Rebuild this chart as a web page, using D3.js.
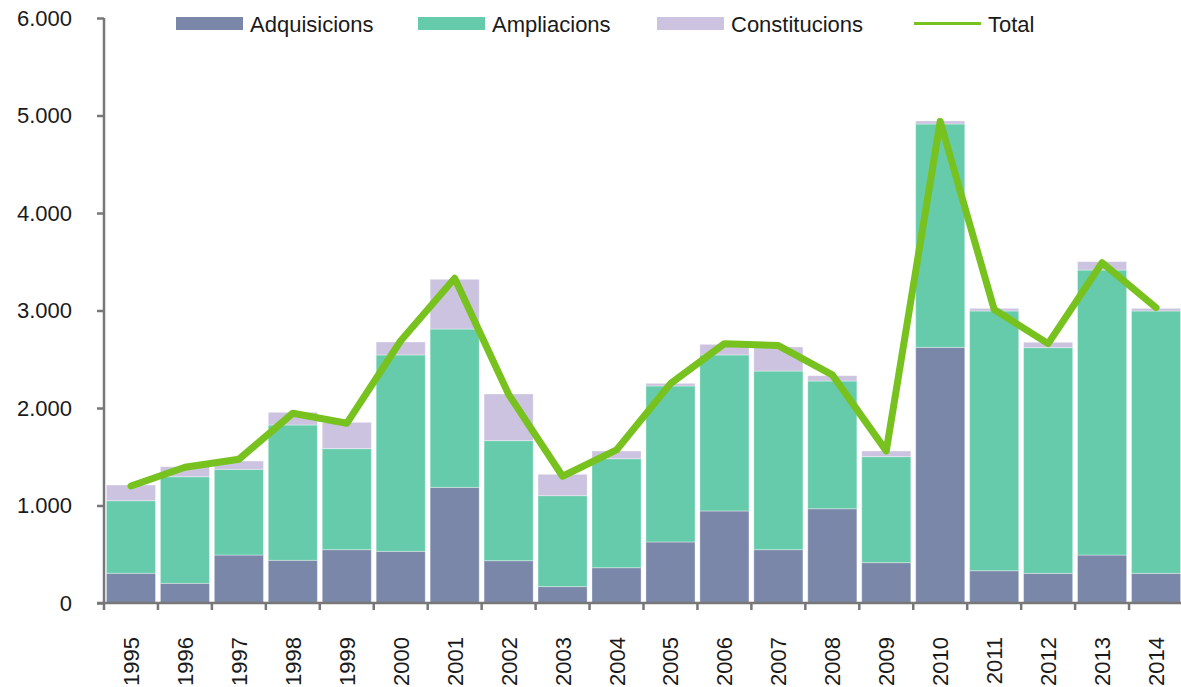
<!DOCTYPE html>
<html>
<head>
<meta charset="utf-8">
<script src="https://cdn.jsdelivr.net/npm/d3@7"></script>
<style>
  body { margin: 0; background: #fff; }
  text { font-family: "Liberation Sans", Arial, sans-serif; fill: #1a1a1a; }
</style>
</head>
<body>
<svg id="chart" width="1181" height="687"></svg>
<script>
// data
const years = ['1995','1996','1997','1998','1999','2000','2001','2002','2003','2004',
               '2005','2006','2007','2008','2009','2010','2011','2012','2013','2014'];
const adquisicions = [305, 202, 492, 438, 547, 530, 1186, 434, 168, 362, 626, 944, 547, 967, 414, 2622, 331, 304, 492, 304];
const ampliacions = [744, 1093, 879, 1388, 1036, 2014, 1624, 1231, 933, 1118, 1600, 1600, 1832, 1310, 1087, 2291, 2664, 2315, 2923, 2691];
const constitucions = [161, 103, 85, 130, 270, 133, 510, 479, 219, 79, 27, 109, 247, 54, 58, 31, 27, 55, 86, 27];
const total = [1200, 1392, 1474, 1946, 1843, 2690, 3330, 2140, 1300, 1570, 2250, 2660, 2640, 2340, 1560, 4940, 3010, 2660, 3490, 3030];
const yTicks = [0, 1000, 2000, 3000, 4000, 5000, 6000];

const seriesNames = ['Adquisicions', 'Ampliacions', 'Constitucions'];
const colors = { Adquisicions: '#7a87a9', Ampliacions: '#66cbaa', Constitucions: '#cbc3df', Total: '#78c21f' };

const svg = d3.select('#chart');

const x = d3.scaleBand()
  .domain(years)
  .range([104, 1183])
  .paddingInner(0.09)
  .paddingOuter(0.045);

const y = d3.scaleLinear()
  .domain([0, 6000])
  .range([603, 18]);

// build rows for the stack
const rows = years.map((yr, i) => ({
  year: yr,
  Adquisicions: adquisicions[i],
  Ampliacions: ampliacions[i],
  Constitucions: constitucions[i]
}));
const stacked = d3.stack().keys(seriesNames)(rows);

// bars
svg.append('g')
  .selectAll('g')
  .data(stacked)
  .enter().append('g')
  .attr('fill', d => colors[d.key])
  .selectAll('rect')
  .data(d => d)
  .enter().append('rect')
  .attr('x', d => x(d.data.year))
  .attr('y', d => y(d[1]))
  .attr('width', x.bandwidth())
  .attr('height', d => y(d[0]) - y(d[1]))
  .attr('stroke', 'rgba(255,255,255,0.35)')
  .attr('stroke-width', 1);

// y axis
const yAxis = svg.append('g')
  .attr('transform', 'translate(104,0)')
  .call(d3.axisLeft(y).tickValues(yTicks).tickSize(7).tickPadding(25)
    .tickFormat(d => d3.format(',')(d).replace(/,/g, '.')));
yAxis.select('.domain').attr('stroke', '#777').attr('stroke-width', 2.5)
  .attr('d', 'M0,603V18');
yAxis.selectAll('.tick line').attr('stroke', '#777').attr('stroke-width', 2.5);
yAxis.selectAll('.tick text')
  .style('font-size', '22px')
  .style('font-family', '"Liberation Sans", Arial, sans-serif')
  .attr('fill', '#1a1a1a');

// x axis: labels under band centres, ticks on band boundaries
const step = x.step();
const bounds = years.map(yr => x(yr) - step * x.paddingInner() / 2).concat([x(years[years.length - 1]) + x.bandwidth() + step * x.paddingInner() / 2]);

const xAxis = svg.append('g');
xAxis.append('line')
  .attr('x1', 97).attr('x2', 1181)
  .attr('y1', y(0)).attr('y2', y(0))
  .attr('stroke', '#777').attr('stroke-width', 2.5);
xAxis.selectAll('.xtick')
  .data(bounds)
  .enter().append('line')
  .attr('x1', d => d).attr('x2', d => d)
  .attr('y1', y(0)).attr('y2', y(0) + 7)
  .attr('stroke', '#777').attr('stroke-width', 2.5);
xAxis.selectAll('.xlab')
  .data(years)
  .enter().append('text')
  .attr('transform', d => 'translate(' + (x(d) + x.bandwidth() / 2 + 8) + ',637) rotate(-90)')
  .attr('text-anchor', 'end')
  .style('font-size', '22px')
  .text(d => d);

// total line
const line = d3.line()
  .x((d, i) => x(years[i]) + x.bandwidth() / 2)
  .y(d => y(d));

svg.append('path')
  .datum(total)
  .attr('d', line)
  .attr('fill', 'none')
  .attr('stroke', colors.Total)
  .attr('stroke-width', 7)
  .attr('stroke-linejoin', 'round')
  .attr('stroke-linecap', 'round');

// legend
const legendItems = [
  { name: 'Adquisicions', x: 176, type: 'rect' },
  { name: 'Ampliacions', x: 418, type: 'rect' },
  { name: 'Constitucions', x: 657, type: 'rect' },
  { name: 'Total', x: 914, type: 'line' }
];
const legend = svg.append('g');
legendItems.forEach(it => {
  if (it.type === 'rect') {
    legend.append('rect')
      .attr('x', it.x).attr('y', 17)
      .attr('width', 67).attr('height', 13)
      .attr('fill', colors[it.name]);
  } else {
    legend.append('line')
      .attr('x1', it.x).attr('x2', it.x + 67)
      .attr('y1', 23.5).attr('y2', 23.5)
      .attr('stroke', colors.Total).attr('stroke-width', 3);
  }
  legend.append('text')
    .attr('x', it.x + 74).attr('y', 32)
    .style('font-size', '22px')
    .text(it.name);
});
</script>
</body>
</html>
